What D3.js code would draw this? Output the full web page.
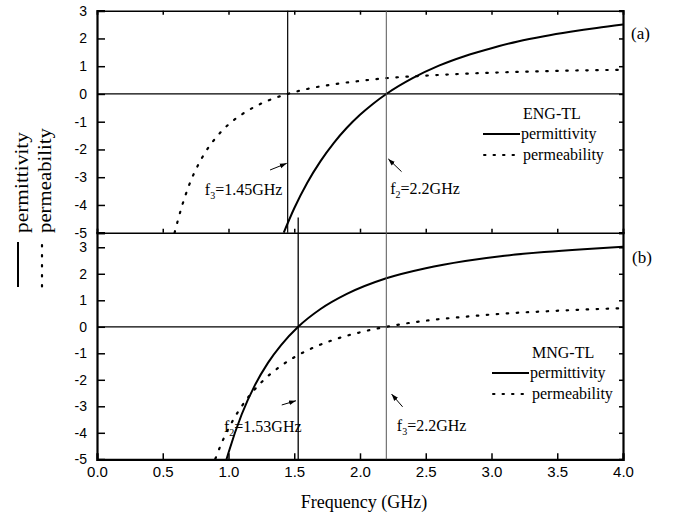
<!DOCTYPE html>
<html>
<head>
<meta charset="utf-8">
<script src="https://cdn.jsdelivr.net/npm/d3@7"></script>
<style>
  body { margin:0; background:#fff; }
  .serif { font-family: "Liberation Serif", "Times New Roman", serif; fill:#000; }
</style>
</head>
<body>
<svg id="chart" width="678" height="518"></svg>
<script>
// data

// (a) ENG-TL
const freqEpsA = [1.42, 1.5, 1.6, 1.7, 1.8, 1.9, 2.0, 2.1, 2.2, 2.4, 2.6, 2.8, 3.0, 3.2, 3.4, 3.6, 3.8, 4.0];
const epsA     = [-5.0, -4.12, -3.19, -2.42, -1.77, -1.22, -0.75, -0.35, 0, 0.57, 1.02, 1.37, 1.65, 1.89, 2.08, 2.24, 2.38, 2.5];
const freqMuA  = [0.59, 0.65, 0.7, 0.8, 0.9, 1.0, 1.1, 1.2, 1.3, 1.45, 1.6, 1.8, 2.0, 2.2, 2.5, 2.8, 3.1, 3.4, 3.7, 4.0];
const muA      = [-5.0, -3.98, -3.29, -2.29, -1.60, -1.10, -0.74, -0.46, -0.24, 0, 0.18, 0.35, 0.47, 0.57, 0.66, 0.73, 0.78, 0.82, 0.85, 0.87];

// (b) MNG-TL
const freqEpsB = [0.985, 1.0, 1.1, 1.2, 1.3, 1.4, 1.53, 1.7, 1.9, 2.2, 2.5, 2.8, 3.1, 3.4, 3.7, 4.0];
const epsB     = [-5.0, -4.75, -3.31, -2.21, -1.36, -0.69, 0, 0.67, 1.24, 1.83, 2.21, 2.48, 2.68, 2.82, 2.93, 3.02];
const freqMuB  = [0.9, 0.95, 1.0, 1.1, 1.2, 1.3, 1.4, 1.5, 1.6, 1.8, 2.0, 2.2, 2.5, 2.8, 3.1, 3.4, 3.7, 4.0];
const muB      = [-4.98, -4.36, -3.84, -3.0, -2.36, -1.86, -1.47, -1.15, -0.89, -0.49, -0.21, 0, 0.23, 0.38, 0.50, 0.58, 0.65, 0.70];

const xTicks = [0, 0.5, 1.0, 1.5, 2.0, 2.5, 3.0, 3.5, 4.0];
const yTicks = [-5, -4, -3, -2, -1, 0, 1, 2, 3];

// marker frequencies
const fA1 = 1.45, fA2 = 2.2, fB1 = 1.53, fB2 = 2.2;

// annotation labels [freq, value, sym, sub, rest]
const labelsA = [[0.82, -3.65, "f", "3", "=1.45GHz"], [2.23, -3.61, "f", "2", "=2.2GHz"]];
const labelsB = [[0.966, -3.97, "f", "2", "=1.53GHz"], [2.28, -3.94, "f", "3", "=2.2GHz"]];
// arrows [f tail, v tail, f head, v head]
const arrowsA = [[1.316, -2.74, 1.443, -2.50], [2.316, -2.80, 2.215, -2.34]];
const arrowsB = [[1.405, -2.95, 1.513, -2.79], [2.324, -3.02, 2.24, -2.54]];

const svg = d3.select("#chart");

const x = d3.scaleLinear().domain([0, 4]).range([97, 623]);
const yA = d3.scaleLinear().domain([-5, 3]).range([232.7, 10.7]);
const yB = d3.scaleLinear().domain([-5, 3.55]).range([459.3, 232.7]);

const sans = '"Liberation Sans", Arial, sans-serif';

svg.append("defs").append("marker")
  .attr("id", "arr")
  .attr("viewBox", "0 0 10 10")
  .attr("refX", 10).attr("refY", 5)
  .attr("markerWidth", 7).attr("markerHeight", 7)
  .attr("markerUnits", "userSpaceOnUse")
  .attr("orient", "auto")
  .append("path").attr("d", "M0,1.5 L10,5 L0,8.5 Z").attr("fill", "#000");

function zip(fs, vs) { return fs.map((f, i) => ({ f: f, v: vs[i] })); }

function panel(y, epsData, muData, labels, arrows, isBottom) {
  const g = svg.append("g");

  // zero line
  g.append("line")
    .attr("x1", x(0)).attr("x2", x(4))
    .attr("y1", y(0)).attr("y2", y(0))
    .attr("stroke", "#000").attr("stroke-width", 1.2);

  const line = d3.line().x(d => x(d.f)).y(d => y(d.v)).curve(d3.curveMonotoneX);

  g.append("path").datum(muData)
    .attr("d", line).attr("fill", "none")
    .attr("stroke", "#000").attr("stroke-width", 2.2)
    .attr("stroke-dasharray", "1.5 8.5").attr("stroke-linecap", "round");

  g.append("path").datum(epsData)
    .attr("d", line).attr("fill", "none")
    .attr("stroke", "#000").attr("stroke-width", 2);

  // axes
  g.append("g").attr("transform", `translate(${x(0)},0)`)
    .call(d3.axisLeft(y).tickValues(yTicks).tickSize(-8).tickPadding(10).tickFormat(d => String(d)))
    .call(a => a.select(".domain").attr("stroke-width", 2.2))
    .call(a => a.selectAll("text").attr("font-size", 14).attr("font-family", sans));

  g.append("g").attr("transform", `translate(${x(4)},0)`)
    .call(d3.axisRight(y).tickValues(yTicks).tickSize(-4).tickFormat(""))
    .call(a => a.select(".domain").attr("stroke-width", 2.2));

  if (!isBottom) {
    g.append("g").attr("transform", `translate(0,${y(3)})`)
      .call(d3.axisTop(x).tickValues(xTicks).tickSize(-4).tickFormat(""))
      .call(a => a.select(".domain").attr("stroke-width", 1.5));
    g.append("g").attr("transform", `translate(0,${y(-5)})`)
      .call(d3.axisBottom(x).tickValues(xTicks).tickSize(-4).tickFormat(""))
      .call(a => a.select(".domain").attr("stroke-width", 1.5));
  } else {
    g.append("g").attr("transform", `translate(0,${y(-5)})`)
      .call(d3.axisBottom(x).tickValues(xTicks).tickSize(-6).tickPadding(7).tickFormat(d3.format(".1f")))
      .call(a => a.select(".domain").attr("stroke-width", 2.2))
      .call(a => a.selectAll("text").attr("font-size", 15).attr("font-family", sans));
  }
  g.selectAll(".tick line").attr("stroke-width", 1.5);

  // annotation labels
  labels.forEach(l => {
    const t = g.append("text").attr("class", "serif")
      .attr("x", x(l[0])).attr("y", y(l[1])).attr("font-size", 16);
    t.append("tspan").text(l[2]);
    t.append("tspan").attr("font-size", 10).attr("dy", 4).text(l[3]);
    t.append("tspan").attr("dy", -4).text(l[4]);
  });

  arrows.forEach(a => {
    g.append("line")
      .attr("x1", x(a[0])).attr("y1", y(a[1]))
      .attr("x2", x(a[2])).attr("y2", y(a[3]))
      .attr("stroke", "#000").attr("stroke-width", 1)
      .attr("marker-end", "url(#arr)");
  });
  return g;
}

panel(yA, zip(freqEpsA, epsA), zip(freqMuA, muA), labelsA, arrowsA, false);
panel(yB, zip(freqEpsB, epsB), zip(freqMuB, muB), labelsB, arrowsB, true);

// vertical marker lines
svg.append("line")
  .attr("x1", x(fA1)).attr("x2", x(fA1)).attr("y1", yA(3)).attr("y2", yA(-5))
  .attr("stroke", "#000").attr("stroke-width", 1.2);
svg.append("line")
  .attr("x1", x(fA2)).attr("x2", x(fA2)).attr("y1", yA(3)).attr("y2", yB(-5))
  .attr("stroke", "#555").attr("stroke-width", 1);
svg.append("line")
  .attr("x1", x(fB1)).attr("x2", x(fB1)).attr("y1", yA(-4.45)).attr("y2", yB(-5))
  .attr("stroke", "#000").attr("stroke-width", 1.3);

// panel tags
svg.append("text").attr("class", "serif").attr("x", 631).attr("y", 39).attr("font-size", 17).text("(a)");
svg.append("text").attr("class", "serif").attr("x", 632).attr("y", 263).attr("font-size", 17).text("(b)");

// in-panel legends
function legend(x0, yTitle, title) {
  const g = svg.append("g");
  g.append("text").attr("class", "serif").attr("x", x0 + 40).attr("y", yTitle).attr("font-size", 16).text(title);
  g.append("line").attr("x1", x0).attr("x2", x0 + 37).attr("y1", yTitle + 15).attr("y2", yTitle + 15)
    .attr("stroke", "#000").attr("stroke-width", 2);
  g.append("text").attr("class", "serif").attr("x", x0 + 38).attr("y", yTitle + 20).attr("font-size", 16).text("permittivity");
  g.append("line").attr("x1", x0 + 1).attr("x2", x0 + 37).attr("y1", yTitle + 36).attr("y2", yTitle + 36)
    .attr("stroke", "#000").attr("stroke-width", 2).attr("stroke-dasharray", "1.5 8").attr("stroke-linecap", "round");
  g.append("text").attr("class", "serif").attr("x", x0 + 40).attr("y", yTitle + 41).attr("font-size", 16).text("permeability");
}
legend(483, 119, "ENG-TL");
legend(492, 358, "MNG-TL");

// left side legend (rotated)
svg.append("text").attr("class", "serif")
  .attr("transform", "translate(28,233) rotate(-90)")
  .attr("font-size", 18).attr("textLength", 101).attr("lengthAdjust", "spacingAndGlyphs")
  .text("permittivity");
svg.append("text").attr("class", "serif")
  .attr("transform", "translate(51,233) rotate(-90)")
  .attr("font-size", 18).attr("textLength", 105).attr("lengthAdjust", "spacingAndGlyphs")
  .text("permeability");
svg.append("line").attr("x1", 18).attr("x2", 18).attr("y1", 242).attr("y2", 287)
  .attr("stroke", "#000").attr("stroke-width", 2);
svg.append("line").attr("x1", 42).attr("x2", 42).attr("y1", 245).attr("y2", 287)
  .attr("stroke", "#000").attr("stroke-width", 2.2).attr("stroke-dasharray", "1.5 8.5").attr("stroke-linecap", "round");

// x axis title
svg.append("text").attr("class", "serif")
  .attr("x", x(2.03)).attr("y", 508).attr("text-anchor", "middle").attr("font-size", 18)
  .text("Frequency (GHz)");
</script>
</body>
</html>
